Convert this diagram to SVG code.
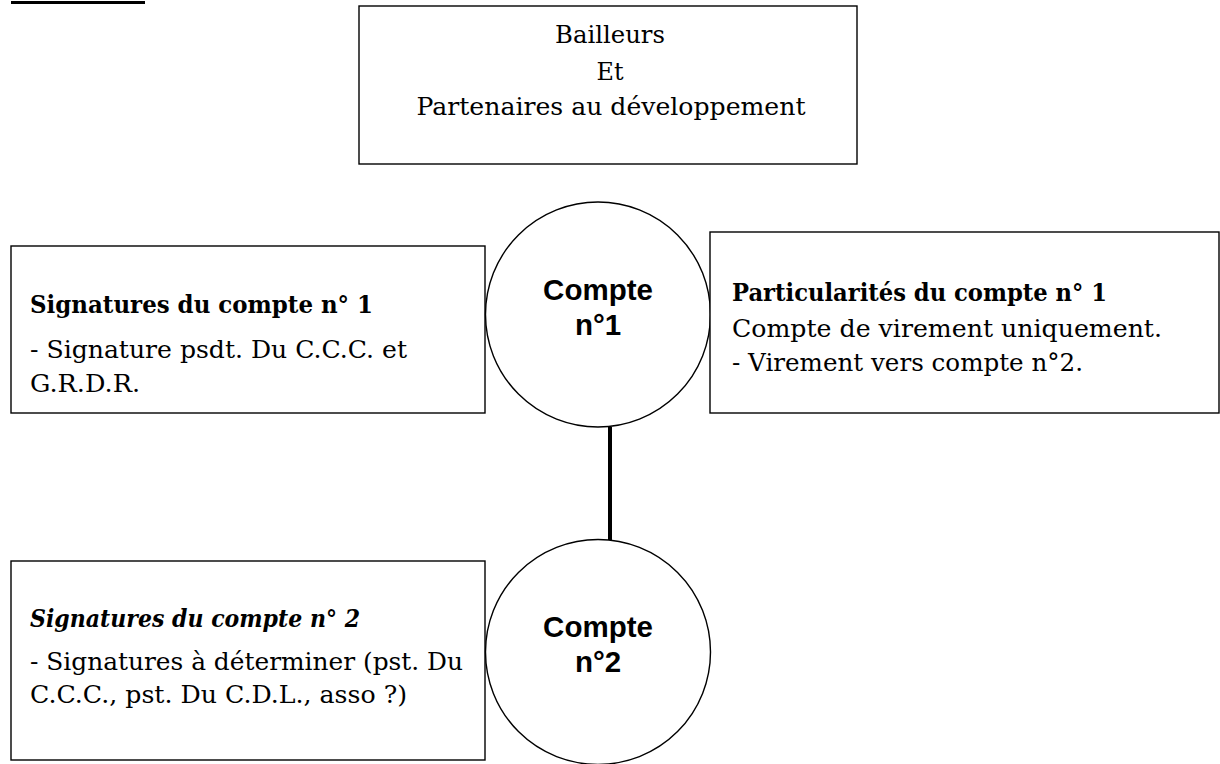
<svg xmlns="http://www.w3.org/2000/svg" width="1220" height="764" viewBox="0 0 1220 764">
<style>
.box{fill:#fff;stroke:#000;stroke-width:1.4}
.circ{fill:#fff;stroke:#000;stroke-width:1.4}
.serif{font-family:"DejaVu Serif","Liberation Serif",serif;font-size:25px;fill:#000}
.b{font-weight:bold}
.i{font-style:italic}
.lbl{font-family:"Liberation Sans",Arial,sans-serif;font-weight:bold;font-size:29.5px;fill:#000;text-anchor:middle}
.conn{stroke:#000;stroke-width:4;fill:none}
</style>
<rect width="1220" height="764" fill="#fff"/>
<line x1="11" y1="2.5" x2="145" y2="2.5" stroke="#000" stroke-width="3"/>
<g id="connectors">
<line class="conn" x1="610" y1="427" x2="610" y2="540"/>
</g>
<g id="bailleurs">
<rect class="box" x="359" y="6" width="498" height="158"/>
<text class="serif" x="610" y="43" text-anchor="middle" textLength="110" lengthAdjust="spacingAndGlyphs">Bailleurs</text>
<text class="serif" x="610" y="80" text-anchor="middle" textLength="27" lengthAdjust="spacingAndGlyphs">Et</text>
<text class="serif" x="611" y="115" text-anchor="middle" textLength="389" lengthAdjust="spacingAndGlyphs">Partenaires au développement</text>
</g>
<g id="signatures1">
<rect class="box" x="11" y="246" width="474" height="167"/>
<text class="serif b" x="30" y="313" textLength="343" lengthAdjust="spacingAndGlyphs">Signatures du compte n° 1</text>
<text class="serif" x="30" y="358" textLength="377" lengthAdjust="spacingAndGlyphs">- Signature psdt. Du C.C.C. et</text>
<text class="serif" x="30" y="392" textLength="110" lengthAdjust="spacingAndGlyphs">G.R.D.R.</text>
</g>
<g id="compte1">
<circle class="circ" cx="598" cy="314.5" r="112.5"/>
<text class="lbl" x="598" y="300">Compte</text>
<text class="lbl" x="598" y="335">n°1</text>
</g>
<g id="particularites1">
<rect class="box" x="710" y="232" width="509" height="181"/>
<text class="serif b" x="732" y="301" textLength="375" lengthAdjust="spacingAndGlyphs">Particularités du compte n° 1</text>
<text class="serif" x="732" y="337" textLength="430" lengthAdjust="spacingAndGlyphs">Compte de virement uniquement.</text>
<text class="serif" x="732" y="371" textLength="351" lengthAdjust="spacingAndGlyphs">- Virement vers compte n°2.</text>
</g>
<g id="signatures2">
<rect class="box" x="11" y="561" width="474" height="199"/>
<text class="serif b i" x="30" y="627" textLength="330" lengthAdjust="spacingAndGlyphs">Signatures du compte n° 2</text>
<text class="serif" x="30" y="670" textLength="433" lengthAdjust="spacingAndGlyphs">- Signatures à déterminer (pst. Du</text>
<text class="serif" x="30" y="703" textLength="377" lengthAdjust="spacingAndGlyphs">C.C.C., pst. Du C.D.L., asso ?)</text>
</g>
<g id="compte2">
<circle class="circ" cx="598" cy="652" r="112.5"/>
<text class="lbl" x="598" y="637">Compte</text>
<text class="lbl" x="598" y="672">n°2</text>
</g>
</svg>
